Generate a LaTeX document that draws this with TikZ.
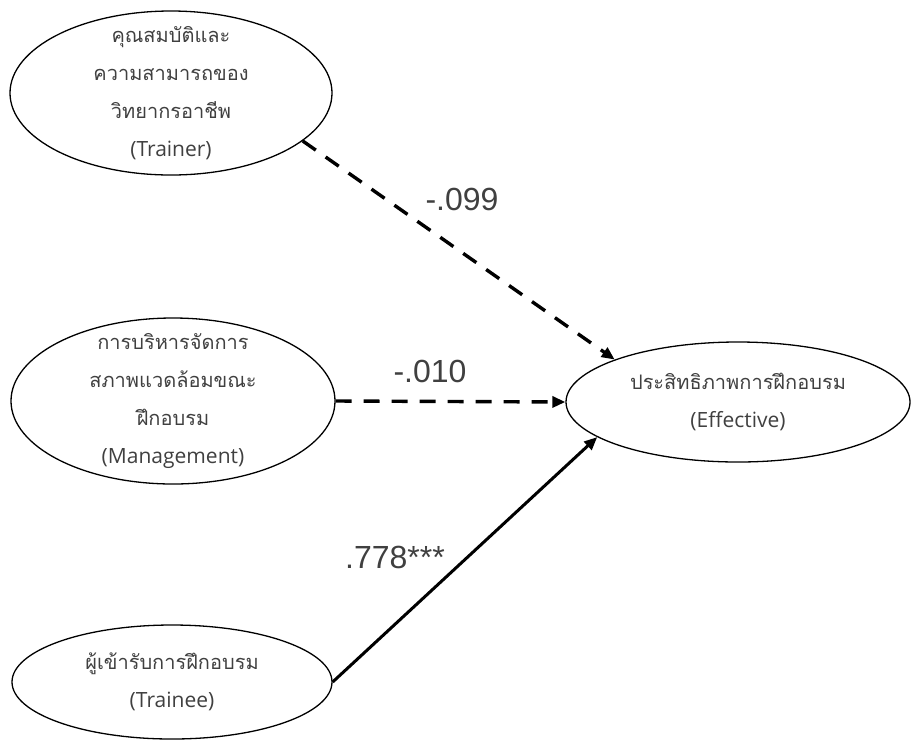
\documentclass[tikz,border=0pt]{standalone}
\usepackage{fontspec}
\setmainfont{Liberation Sans}
\newfontfamily\thaifont[Script=Thai]{Loma}
\newfontfamily\latinfont{Open Sans}
\usetikzlibrary{shapes.geometric,arrows.meta}
\definecolor{txt}{HTML}{404040}
\newcommand{\eng}[1]{{\latinfont\fontsize{21}{38}\selectfont #1}}
\tikzset{
  factor/.style={ellipse, draw=black, line width=1.3pt, inner sep=0pt},
  factortext/.style={text=txt, align=center, inner sep=0pt,
    font=\thaifont\fontsize{20}{38}\selectfont},
  effect/.style={line width=3pt, -{Triangle[length=13pt,width=11pt]}},
  weakeffect/.style={effect, line width=3.4pt, dash pattern=on 16pt off 12pt},
  coef/.style={text=txt, font=\fontsize{32}{38}\selectfont, anchor=base, inner sep=0pt},
}
\begin{document}
\begin{tikzpicture}[x=1pt,y=-1pt]
  \useasboundingbox (0,0) rectangle (912,740);

  % latent factors
  \node[factor, minimum width=322pt, minimum height=164pt] (trainer) at (171,93) {};
  \node[factor, minimum width=324pt, minimum height=166pt] (manage) at (173,401) {};
  \node[factor, minimum width=320pt, minimum height=114pt] (trainee) at (172,682) {};
  \node[factor, minimum width=344pt, minimum height=120pt] (effective) at (738,402) {};

  % factor captions
  \node[factortext] (trainerlbl) at (trainer)
    {คุณสมบัติและ\\ความสามารถของ\\วิทยากรอาชีพ\\\eng{(Trainer)}};
  \node[factortext] (managelbl) at (manage)
    {การบริหารจัดการ\\สภาพแวดล้อมขณะ\\ฝึกอบรม\\\eng{(Management)}};
  \node[factortext] (traineelbl) at (trainee)
    {ผู้เข้ารับการฝึกอบรม\\\eng{(Trainee)}};
  \node[factortext] (effectivelbl) at (effective)
    {ประสิทธิภาพการฝึกอบรม\\\eng{(Effective)}};

  % structural paths
  \draw[weakeffect] (trainer.-20) -- (effective.161);
  \draw[weakeffect] (manage.east) -- (effective.west);
  \draw[effect] (trainee.east) -- (effective.194);

  % path coefficients
  \node[coef] (c1) at (462,210) {-.099};
  \node[coef] (c2) at (430,382) {-.010};
  \node[coef] (c3) at (395,568) {.778***};
\end{tikzpicture}
\end{document}
